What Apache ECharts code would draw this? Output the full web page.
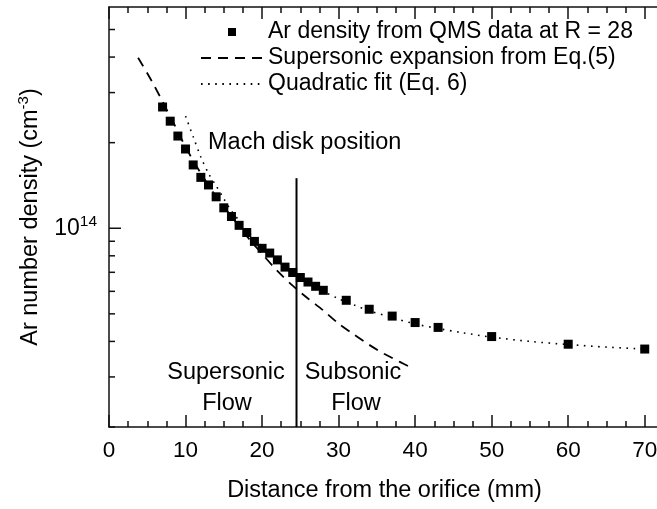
<!DOCTYPE html>
<html><head><meta charset="utf-8">
<script src="https://cdn.jsdelivr.net/npm/echarts@6/dist/echarts.min.js"></script>
<style>html,body{margin:0;padding:0;background:#fff}#c{width:657px;height:509px}</style>
</head><body><div id="c"></div>
<script>
// Measured Ar density (QMS data at R = 28)
const qmsX = [7,8,9,10,11,12,13,14,15,16,17,18,19,20,21,22,23,24,25,26,27,28,31,34,37,40,43,50,60,70];
const qmsY = [2.67e14,2.38e14,2.11e14,1.90e14,1.67e14,1.51e14,1.42e14,1.29e14,1.18e14,1.10e14,1.024e14,0.966e14,0.899e14,0.85e14,0.818e14,0.774e14,0.73e14,0.699e14,0.671e14,0.647e14,0.625e14,0.605e14,0.558e14,0.519e14,0.491e14,0.466e14,0.448e14,0.416e14,0.391e14,0.376e14];
// Supersonic expansion curve (Eq. 5)
const superX = [3.8,5,6,7,8,9,10,12,14,16,18,20,22,24,26,28,30,32,34,36,38,39.4];
const superY = [3.98e14,3.51e14,3.14e14,2.79e14,2.47e14,2.19e14,1.93e14,1.56e14,1.29e14,1.10e14,0.938e14,0.813e14,0.708e14,0.628e14,0.566e14,0.514e14,0.462e14,0.423e14,0.389e14,0.361e14,0.339e14,0.324e14];
// Quadratic fit (Eq. 6)
const fitX = [10,11,12,13,14,15,16,17,18,19,20,21,22,24,26,28,30,32,34,37,40,43,46,50,55,60,65,70];
const fitY = [2.48e14,2.10e14,1.78e14,1.56e14,1.41e14,1.27e14,1.15e14,1.065e14,0.985e14,0.92e14,0.86e14,0.809e14,0.767e14,0.697e14,0.642e14,0.600e14,0.565e14,0.537e14,0.513e14,0.485e14,0.461e14,0.444e14,0.430e14,0.414e14,0.400e14,0.390e14,0.382e14,0.376e14];
// Mach disk position
const machX = [24.5, 24.5];
const machY = [1.5e14, 2e13];
// Axis ticks / labels
const yTickValues = [2e13,3e13,4e13,5e13,6e13,7e13,8e13,9e13,1e14,2e14,3e14,4e14,5e14];
const xTickLabels = [0,10,20,30,40,50,60,70];
const names = ['Ar density from QMS data at R = 28','Supersonic expansion from Eq.(5)','Quadratic fit (Eq. 6)'];

const zip = (xs, ys) => xs.map((x, i) => [x, ys[i]]);
const FONT = 'Liberation Sans, Arial, sans-serif';
const INK = '#000';

const chart = echarts.init(document.getElementById('c'), null, {renderer: 'canvas'});
const xCommon = {
  type: 'value', min: 0, max: 75, interval: 10,
  axisLine: {show: true, lineStyle: {color: '#111', width: 1.5}},
  axisTick: {show: true, inside: true, length: 12, lineStyle: {color: '#111', width: 1.5}},
  minorTick: {show: true, splitNumber: 4, length: 6, lineStyle: {color: '#111', width: 1.5}},
  splitLine: {show: false}, minorSplitLine: {show: false}
};
chart.setOption({
  animation: false,
  backgroundColor: '#fff',
  textStyle: {fontFamily: FONT},
  grid: {left: 109, width: 574, top: 7, height: 420, containLabel: false, outerBoundsMode: 'none'},
  legend: {
    data: [
      {name: names[0]},
      {name: names[1], itemStyle: {opacity: 0}},
      {name: names[2], itemStyle: {opacity: 0}}
    ],
    orient: 'vertical', left: 200, top: 20, padding: 0,
    itemWidth: 62, itemHeight: 10, itemGap: 2, selectedMode: false,
    textStyle: {fontSize: 23, color: INK, fontFamily: FONT, lineHeight: 24}
  },
  xAxis: [
    Object.assign({}, xCommon, {
      position: 'bottom',
      axisLabel: {show: true, margin: 12, fontSize: 22.5, color: INK, fontFamily: FONT,
        formatter: v => xTickLabels.indexOf(v) >= 0 ? String(v) : ''},
      name: 'Distance from the orifice (mm)', nameLocation: 'middle', nameGap: 52,
      nameTextStyle: {fontSize: 23.5, color: INK, fontFamily: FONT, padding: [0, 23, 0, 0]}
    }),
    Object.assign({}, xCommon, {position: 'top', axisLabel: {show: false}})
  ],
  yAxis: {
    type: 'log', logBase: 10, min: 2e13, max: 6e14,
    axisLine: {show: true, lineStyle: {color: '#111', width: 1.5}},
    axisTick: {show: false}, minorTick: {show: false}, splitLine: {show: false},
    axisLabel: {
      show: true, margin: 12, color: INK, fontFamily: FONT,
      formatter: v => Math.abs(Math.log10(v) - 14) < 1e-6 ? '{b|10}{s|14}' : '',
      rich: {b: {fontSize: 23, color: INK, fontFamily: FONT},
             s: {fontSize: 15.5, color: INK, fontFamily: FONT, padding: [0, 0, 14, 0]}}
    },
    name: 'Ar number density (cm{s|-3})', nameLocation: 'middle', nameGap: 64, nameRotate: 90,
    nameTextStyle: {fontSize: 23.5, color: INK, fontFamily: FONT,
      rich: {s: {fontSize: 15, color: INK, fontFamily: FONT, padding: [0, 0, 14, 0]}}}
  },
  series: [
    {name: names[0], type: 'line', data: zip(qmsX, qmsY), symbol: 'rect', symbolSize: 9,
     showSymbol: true, itemStyle: {color: INK}, lineStyle: {opacity: 0, width: 0}, z: 5},
    {name: names[1], type: 'line', data: zip(superX, superY), symbol: 'none', smooth: 0.3,
     itemStyle: {color: INK}, lineStyle: {color: INK, width: 1.8, type: [10, 7]}, z: 3},
    {name: names[2], type: 'line', data: zip(fitX, fitY), symbol: 'none', smooth: 0.3,
     itemStyle: {color: INK}, lineStyle: {color: INK, width: 1.6, type: [1.6, 5.5]}, z: 3},
    {name: 'Mach disk', type: 'line', data: zip(machX, machY), symbol: 'none',
     lineStyle: {color: INK, width: 2}, z: 4},
    {name: 'yticks', type: 'custom', data: yTickValues.map(v => [0, v]), z: 6, clip: false,
     renderItem: (params, api) => {
       const v = api.value(1);
       const p = api.coord([0, v]);
       const len = Math.abs(Math.log10(v) - 14) < 1e-6 ? 12 : 6;
       return {type: 'line', shape: {x1: p[0], y1: p[1], x2: p[0] + len, y2: p[1]},
               style: {stroke: '#111', lineWidth: 1.5}};
     }}
  ],
  graphic: [
    {type: 'text', x: 208, y: 143, style: {text: 'Mach disk position', font: '23.5px ' + FONT, fill: INK, textAlign: 'left', textVerticalAlign: 'middle'}},
    {type: 'text', x: 226, y: 373, style: {text: 'Supersonic', font: '23.5px ' + FONT, fill: INK, textAlign: 'center', textVerticalAlign: 'middle'}},
    {type: 'text', x: 227, y: 404, style: {text: 'Flow', font: '23.5px ' + FONT, fill: INK, textAlign: 'center', textVerticalAlign: 'middle'}},
    {type: 'text', x: 353, y: 373, style: {text: 'Subsonic', font: '23.5px ' + FONT, fill: INK, textAlign: 'center', textVerticalAlign: 'middle'}},
    {type: 'text', x: 356, y: 404, style: {text: 'Flow', font: '23.5px ' + FONT, fill: INK, textAlign: 'center', textVerticalAlign: 'middle'}}
  ]
});
</script></body></html>
